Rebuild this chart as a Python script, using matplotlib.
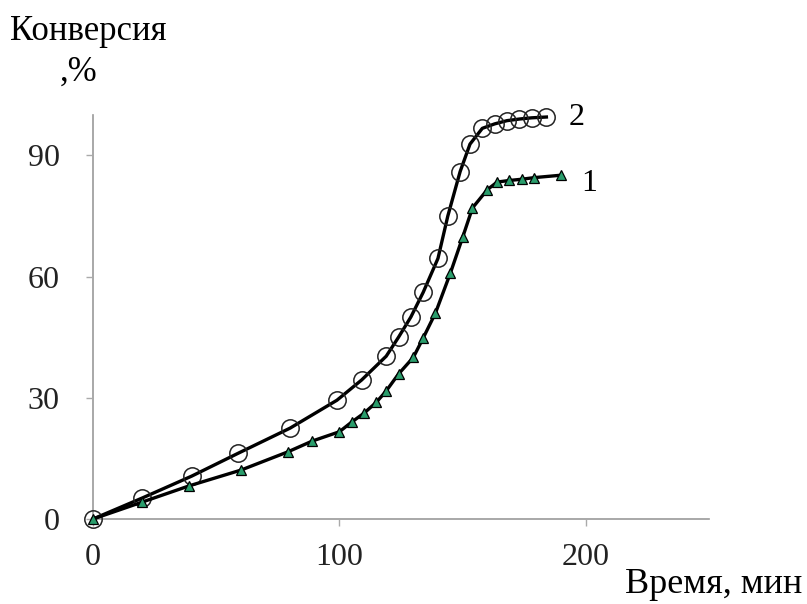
import matplotlib
matplotlib.use("Agg")
import matplotlib.pyplot as plt

plt.rcParams['font.family'] = ['Liberation Serif', 'DejaVu Serif']

# Время, мин и конверсия, % для двух опытов
t1 = [0, 20, 39, 60, 79, 89, 100, 105, 110, 115, 119, 124, 130, 134, 139,
      145, 150, 154, 160, 164, 169, 174, 179, 190]
conv1 = [0, 4.2, 8.2, 12.1, 16.6, 19.3, 21.6, 24.0, 26.2, 28.9, 31.7, 35.9,
         40.0, 44.8, 51.0, 60.8, 69.7, 77.0, 81.5, 83.4, 83.8, 84.1, 84.5, 85.1]

t2 = [0, 20, 40, 59, 80, 99, 109, 119, 124, 129, 134, 140, 144, 149, 153,
      158, 163, 168, 173, 178, 184]
conv2 = [0, 5.2, 10.6, 16.3, 22.5, 29.4, 34.4, 40.3, 45.0, 50.0, 56.1, 64.5,
         75.0, 86.0, 92.8, 96.7, 97.8, 98.6, 99.0, 99.3, 99.5]

fig = plt.figure(figsize=(8.07, 6.04), dpi=100)
ax = fig.add_axes([0.1152, 0.1407, 0.7634, 0.6689])

ax.plot(t2, conv2, color='black', lw=2.4, marker='o', ms=12.5,
        mfc='none', mec='#222222', mew=1.1, zorder=3, clip_on=False)
ax.plot(t1, conv1, color='black', lw=2.4, marker='^', ms=6.5,
        mfc='#2a9d6c', mec='black', mew=0.9, zorder=4, clip_on=False)

ax.text(t2[-1] + 9, conv2[-1], '2', fontsize=23, va='center', ha='left')
ax.text(t1[-1] + 8, conv1[-1] - 2, '1', fontsize=23, va='center', ha='left')

ax.set_xlim(0, 250)
ax.set_ylim(0, 100)
ax.set_xticks([0, 100, 200])
ax.set_yticks([0, 30, 60, 90])

for side in ('top', 'right'):
    ax.spines[side].set_visible(False)
for side in ('left', 'bottom'):
    ax.spines[side].set_color('#999999')
    ax.spines[side].set_linewidth(1.2)
    ax.spines[side].set_zorder(1)

ax.tick_params(direction='out', length=5, width=1, color='#aaaaaa',
               labelsize=23, labelcolor='#222222')
ax.tick_params(axis='y', pad=19)
ax.tick_params(axis='x', pad=12)

fig.text(0.012, 0.948, 'Конверсия', fontsize=25, ha='left', va='center')
fig.text(0.074, 0.881, ',%', fontsize=25, ha='left', va='center')
fig.text(0.994, 0.032, 'Время, мин', fontsize=26, ha='right', va='center')

fig.savefig('out.png', dpi=100, facecolor='white')
